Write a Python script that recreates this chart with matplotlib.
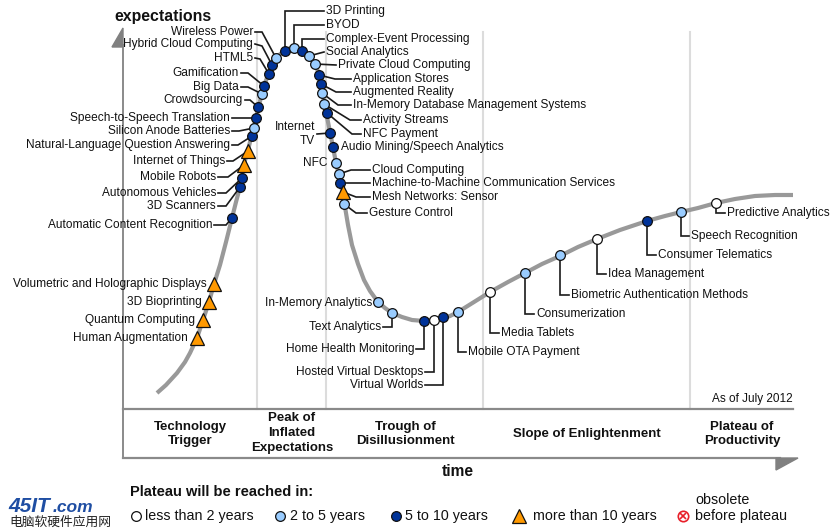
import matplotlib
matplotlib.use("Agg")
import matplotlib.pyplot as plt
from matplotlib.patches import Polygon

plt.rcParams['font.family'] = ['Liberation Sans', 'DejaVu Sans']

# ---------------- data (chart units: time -> right, expectations -> down in px-like units)
curve_time = [157, 166, 177, 185, 190, 197, 203, 209, 214, 220, 226, 232, 236, 240, 244,
              248, 252, 256, 259, 262, 265, 269, 273, 278, 285, 294, 302, 309, 315, 319,
              321, 323, 325, 327, 330, 333, 336, 339, 341, 343, 345, 348, 352, 358, 364,
              370, 378, 385, 392, 402, 412, 424, 434, 443, 450, 458, 474, 490, 508, 525,
              542, 560, 578, 597, 620, 647, 665, 681, 698, 716, 735, 755, 775, 793]
curve_expect = [393, 385, 373, 362, 353, 338, 320, 302, 284, 265, 242, 218, 202, 187, 164,
                150, 134, 118, 105, 94, 83, 73, 64, 56, 50, 47, 50, 56, 64, 74,
                84, 96, 107, 117, 132, 147, 163, 175, 185, 195, 207, 225, 245, 264, 280,
                291, 302, 308, 313, 317, 320, 321, 320, 318, 316, 312, 302, 292, 282, 273,
                264, 256, 247, 239, 230, 221, 216, 212, 208, 203, 199, 196, 195, 195]

tech_names = [
    "Automatic Content Recognition", "3D Scanners", "Autonomous Vehicles", "Mobile Robots",
    "Internet of Things", "Natural-Language Question Answering", "Silicon Anode Batteries",
    "Speech-to-Speech Translation", "Crowdsourcing", "Big Data", "Gamification", "HTML5",
    "Hybrid Cloud Computing", "Wireless Power", "3D Printing", "BYOD",
    "Complex-Event Processing", "Social Analytics", "Private Cloud Computing",
    "Application Stores", "Augmented Reality", "In-Memory Database Management Systems",
    "Activity Streams", "NFC Payment", "Internet\nTV", "Audio Mining/Speech Analytics", "NFC",
    "Cloud Computing", "Machine-to-Machine Communication Services", "Mesh Networks: Sensor",
    "Gesture Control", "In-Memory Analytics", "Text Analytics", "Home Health Monitoring",
    "Hosted Virtual Desktops", "Virtual Worlds", "Mobile OTA Payment", "Media Tablets",
    "Consumerization", "Biometric Authentication Methods", "Idea Management",
    "Consumer Telematics", "Speech Recognition", "Predictive Analytics",
    "Volumetric and Holographic Displays", "3D Bioprinting", "Quantum Computing",
    "Human Augmentation"]
tech_time = [232, 240, 242, 244, 248, 252, 254, 256, 258, 262, 264, 269, 272, 276, 285, 294,
             302, 309, 315, 319, 321, 322, 324, 327, 330, 333, 336, 339, 340, 343, 344,
             378, 392, 424, 434, 443, 458, 490, 525, 560, 597, 647, 681, 716,
             214, 209, 203, 197]
tech_expect = [218, 187, 178, 165, 151, 136, 128, 118, 107, 94, 86, 74, 65, 58, 51, 48,
               51, 56, 64, 75, 84, 93, 104, 113, 133, 147, 163, 174, 183, 192, 204,
               302, 313, 321, 320, 317, 312, 292, 273, 255, 239, 221, 212, 203,
               284, 302, 320, 338]
# plateau: 0 = <2 yrs, 1 = 2-5 yrs, 2 = 5-10 yrs, 3 = >10 yrs
tech_plateau = [2, 2, 2, 3, 3, 2, 1, 2, 2, 1, 2, 2, 2, 1, 2, 1,
                2, 1, 1, 2, 2, 1, 1, 2, 2, 2, 1, 1, 2, 3, 1,
                1, 1, 2, 0, 2, 1, 0, 1, 1, 0, 2, 1, 0,
                3, 3, 3, 3]

phase_names = ["Technology\nTrigger", "Peak of\nInflated\nExpectations",
               "Trough of\nDisillusionment", "Slope of Enlightenment",
               "Plateau of\nProductivity"]
legend_labels = ["less than 2 years", "2 to 5 years", "5 to 10 years", "more than 10 years"]

# ---------------- layout (label anchor x, y, alignment, leader elbow / None / 'none')
R, L = 'right', 'left'
layout = [
    (212, 225, R, (226, 225)), (216, 206, R, (226, 206)), (216, 193, R, (226, 193)),
    (216, 177, R, (228, 177)), (225, 161, R, (233, 161)), (230, 145, R, (238, 145)),
    (230, 131, R, (239, 131)), (230, 118, R, None), (243, 100, R, (250, 100)),
    (239, 87, R, (248, 87)), (239, 73, R, (248, 73)), (253, 58, R, (260, 59)),
    (253, 44, R, (262, 46)), (253, 32, R, (262, 32)),
    (326, 11, L, (285, 11)), (326, 25, L, (294, 25)), (326, 39, L, (302, 39)),
    (326, 52, L, None), (338, 65, L, None), (353, 79, L, (335, 79)),
    (353, 92, L, (336, 92)), (353, 105, L, (338, 105)), (363, 120, L, (350, 120)),
    (363, 134, L, (352, 134)), (315, 134, R, None), (341, 147, L, 'none'),
    (328, 163, R, 'none'), (372, 170, L, (351, 170)), (372, 183, L, None),
    (372, 197, L, (356, 197)), (369, 213, L, (356, 213)),
    (372, 303, R, 'none'), (381, 327, R, (392, 327)), (414, 349, R, (424, 349)),
    (423, 372, R, (434, 372)), (423, 385, R, (443, 385)), (468, 352, L, (458, 352)),
    (501, 333, L, (490, 333)), (536, 314, L, (525, 314)), (571, 295, L, (560, 295)),
    (608, 274, L, (597, 274)), (658, 255, L, (647, 255)), (691, 236, L, (681, 236)),
    (727, 213, L, (716, 213)),
    (207, 284, R, 'none'), (202, 302, R, 'none'), (195, 320, R, 'none'), (188, 338, R, 'none'),
]
phase_pos = [(190, 434), (292, 433), (405, 434), (587, 434), (742, 434)]
separators = [257, 326, 483, 690]

face = ['#FFFFFF', '#99CCFF', '#003399', '#FF9900']
marker = ['o', 'o', 'o', '^']
msize = [7.0, 7.0, 7.0, 9.5]

fig = plt.figure(figsize=(8.4, 5.31), dpi=100)
ax = fig.add_axes([0, 0, 1, 1])
ax.set_xlim(0, 840)
ax.set_ylim(531, 0)
ax.axis('off')

LBL = 8.6
TXT = '#111111'
AX = '#8a8a8a'

# separators
for sx in separators:
    ax.plot([sx, sx], [32, 409], color='#dcdcdc', lw=1.5, zorder=1)

# axes frame
ax.plot([123, 123], [45, 458], color=AX, lw=1.4, zorder=2)
ax.plot([123, 793], [409, 409], color=AX, lw=1.6, zorder=2)
ax.plot([123, 780], [458, 458], color=AX, lw=1.6, zorder=2)
ax.add_patch(Polygon([(112, 47), (123, 28), (123, 47)], closed=True, color='#808080', zorder=2))
ax.add_patch(Polygon([(776, 458), (798, 458), (776, 470)], closed=True, color='#808080', zorder=2))

ax.text(163, 17, "expectations", fontsize=11.4, fontweight='bold', ha='center', va='center', color=TXT)
ax.text(458, 472, "time", fontsize=11.2, fontweight='bold', ha='center', va='center', color=TXT)
ax.text(793, 399, "As of July 2012", fontsize=8.5, ha='right', va='center', color=TXT)

for name, (px, py) in zip(phase_names, phase_pos):
    ax.text(px, py, name, fontsize=9.5, fontweight='bold', ha='center', va='center',
            linespacing=1.3, color=TXT)

# curve
ax.plot(curve_time, curve_expect, color='#999999', lw=3.0, solid_capstyle='butt',
        solid_joinstyle='round', zorder=3)

# leaders, labels and markers
for name, tx, ty, st, (lx, ly, ha, elbow) in zip(tech_names, tech_time, tech_expect,
                                                 tech_plateau, layout):
    ax.text(lx, ly, name, fontsize=LBL, ha=ha, va='center', color=TXT,
            multialignment=ha, linespacing=1.3, zorder=6)
    if elbow != 'none':
        sx = lx + 2 if ha == 'right' else lx - 2
        xs, ys = [sx], [ly]
        if elbow is not None:
            xs.append(elbow[0]); ys.append(elbow[1])
        xs.append(tx); ys.append(ty)
        ax.plot(xs, ys, color='#1a1a1a', lw=1.2, zorder=4, solid_joinstyle='miter')
    ax.plot(tx, ty, marker=marker[st], ms=msize[st], mfc=face[st], mec='#111111',
            mew=0.9, ls='none', zorder=5)

# legend
ax.text(130, 492, "Plateau will be reached in:", fontsize=10.5, fontweight='bold',
        ha='left', va='center', color=TXT)
leg_x = [136, 280, 396, 519]
leg_tx = [145, 290, 405, 533]
for i, lab in enumerate(legend_labels):
    ax.plot(leg_x[i], 516, marker=marker[i], ms=msize[i], mfc=face[i], mec='#111111',
            mew=0.9, ls='none')
    ax.text(leg_tx[i], 516, lab, fontsize=10.3, ha='left', va='center', color=TXT)
ax.plot(683, 516, marker='o', ms=7.5, mfc='white', mec='#e8202a', mew=1.2, ls='none')
ax.plot(683, 516, marker='x', ms=4.5, mec='#e8202a', mew=1.2, ls='none')
ax.text(695, 500, "obsolete", fontsize=10.3, ha='left', va='center', color=TXT)
ax.text(695, 516, "before plateau", fontsize=10.3, ha='left', va='center', color=TXT)

# watermark
ax.text(8, 506, "45IT", fontsize=15, fontweight='bold', style='italic', color='#1f4ea3',
        ha='left', va='center')
ax.text(53, 507, ".com", fontsize=12.5, fontweight='bold', style='italic', color='#1f4ea3',
        ha='left', va='center')
ax.text(9, 522, "电脑软硬件应用网", fontsize=9.2, color='#222222', ha='left', va='center',
        family=['Noto Sans CJK SC', 'DejaVu Sans'])

fig.savefig("out.png", dpi=100)
